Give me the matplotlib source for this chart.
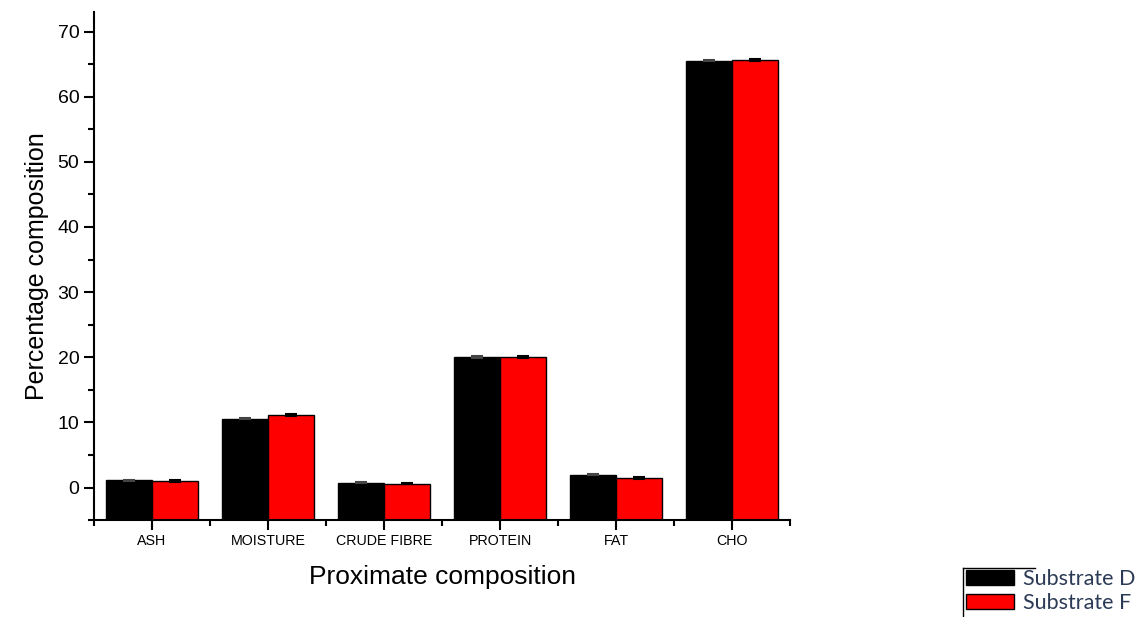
import numpy as np
import matplotlib
matplotlib.use("Agg")
from matplotlib import pyplot as plt
from matplotlib.ticker import MultipleLocator, FixedLocator
from matplotlib.lines import Line2D

plt.rcParams['font.family'] = ['Liberation Sans', 'DejaVu Sans']

# данные с графика
categories = ["ASH", "MOISTURE", "CRUDE FIBRE", "PROTEIN", "FAT", "CHO"]
substrate_d = [1.09, 10.57, 0.73, 20.0, 1.98, 65.55]
substrate_f = [0.94, 11.09, 0.57, 20.08, 1.46, 65.6]
err_d = [0.1, 0.1, 0.08, 0.15, 0.1, 0.15]
err_f = [0.15, 0.15, 0.1, 0.12, 0.12, 0.15]

y_min, y_max = -5, 73

fig = plt.figure(figsize=(11.44, 6.17), dpi=100)
ax = fig.add_axes([0.0822, 0.157, 0.6084, 0.8236])

x = np.arange(len(categories))
width = 0.4

# столбцы начинаются от нижней границы оси (-5), как в Origin
ax.bar(x - width / 2, np.array(substrate_d) - y_min, width, bottom=y_min,
       color='black', edgecolor='black', linewidth=1, yerr=err_d,
       ecolor='#444444', capsize=4, error_kw={'elinewidth': 1, 'capthick': 1.5},
       label='Substrate D')
ax.bar(x + width / 2, np.array(substrate_f) - y_min, width, bottom=y_min,
       color='#ff0000', edgecolor='black', linewidth=1, yerr=err_f,
       ecolor='black', capsize=4, error_kw={'elinewidth': 1, 'capthick': 1.5},
       label='Substrate F')

ax.set_xlim(-0.5, len(categories) - 0.5)
ax.set_ylim(y_min, y_max)

ax.spines['top'].set_visible(False)
ax.spines['right'].set_visible(False)
ax.spines['left'].set_linewidth(1.5)
ax.spines['bottom'].set_linewidth(1.5)

ax.set_xticks(x)
ax.set_xticklabels(categories, fontsize=10.3)
ax.xaxis.set_minor_locator(FixedLocator(np.arange(-0.5, len(categories), 1.0)))
ax.yaxis.set_major_locator(FixedLocator(np.arange(0, 71, 10)))
ax.yaxis.set_minor_locator(MultipleLocator(5))
ax.tick_params(axis='both', which='major', direction='out', length=7, width=1.5)
ax.tick_params(axis='both', which='minor', direction='out', length=4, width=1.5)
ax.tick_params(axis='y', labelsize=14)
ax.tick_params(axis='x', pad=3)

ax.set_xlabel("Proximate composition", fontsize=19, labelpad=12)
ax.set_ylabel("Percentage composition", fontsize=18, labelpad=6)

leg = fig.legend(loc='upper left', bbox_to_anchor=(964 / 1144, 1 - 567 / 617),
                 frameon=False,
                 prop={'family': 'Lato', 'size': 15.5},
                 handlelength=2.2, handleheight=0.7, handletextpad=0.45,
                 labelspacing=0.2, borderpad=0.1, borderaxespad=0)
for t in leg.get_texts():
    t.set_color('#2b3a55')
for h in leg.legend_handles:
    h.set_edgecolor('black')

# обрезанная рамка легенды: только левая и верхняя линии
fx0, fy0 = 963 / 1144, 1 - 568 / 617
fig.add_artist(Line2D([fx0, fx0], [0, fy0], color='black', lw=1))
fig.add_artist(Line2D([fx0, 1035 / 1144], [fy0, fy0], color='black', lw=1))

fig.savefig("out.png", dpi=100)
